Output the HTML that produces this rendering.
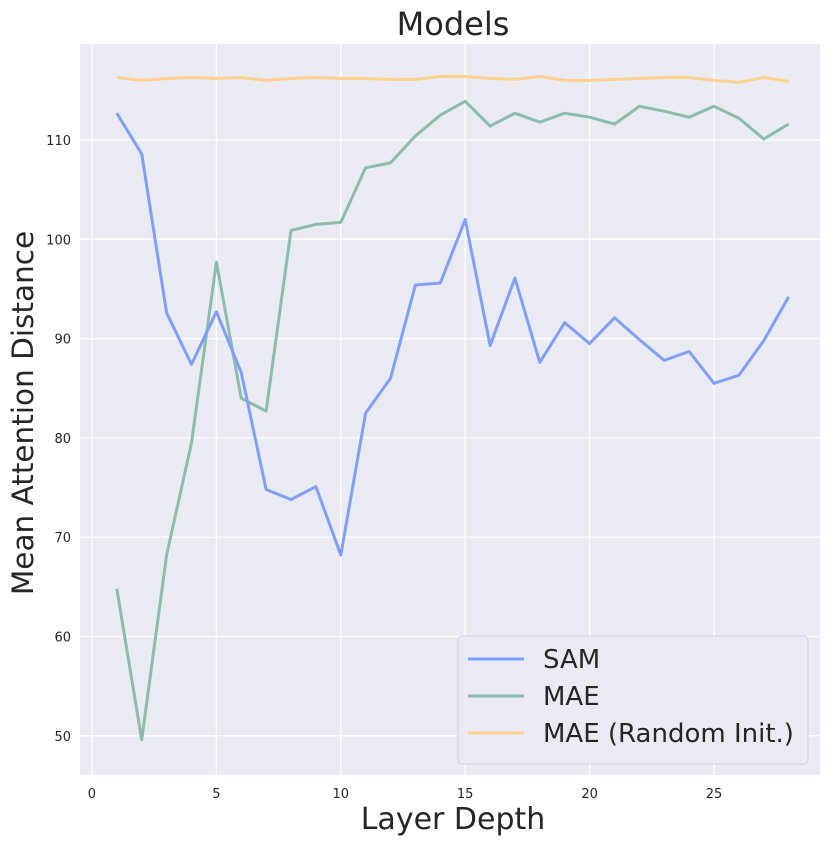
<!DOCTYPE html>
<html><head><meta charset="utf-8"><style>
body{margin:0;background:#fff;}
svg{font-family:"DejaVu Sans","Liberation Sans",sans-serif;}
</style></head><body>
<svg id="chart" width="831" height="845">
<rect x="80" y="44" width="740" height="731" fill="#eaeaf2"/>
<g id="grid"></g><g id="series"></g><g id="ticks"></g>
<text x="453" y="35" font-size="32" text-anchor="middle" fill="#262626">Models</text>
<text x="453" y="829" font-size="30" text-anchor="middle" fill="#262626">Layer Depth</text>
<text transform="translate(33,413) rotate(-90)" font-size="29.5" text-anchor="middle" fill="#262626">Mean Attention Distance</text>
<g id="legend">
<rect x="458" y="636" width="350" height="128" rx="4" fill="#eaeaf2" stroke="#d0d0d8"/>
</g>
</svg>
<script>
const layers=[1,2,3,4,5,6,7,8,9,10,11,12,13,14,15,16,17,18,19,20,21,22,23,24,25,26,27,28];
const samValues=[112.7,108.6,92.6,87.4,92.7,86.6,74.8,73.8,75.1,68.2,82.5,86.0,95.4,95.6,102.0,89.3,96.1,87.6,91.6,89.5,92.1,89.9,87.8,88.7,85.5,86.3,89.8,94.2];
const maeValues=[64.8,49.6,68.2,79.5,97.7,84.0,82.7,100.9,101.5,101.7,107.2,107.7,110.4,112.5,113.9,111.4,112.7,111.8,112.7,112.3,111.6,113.4,112.9,112.3,113.4,112.2,110.1,111.6];
const randValues=[116.3,116.0,116.2,116.3,116.2,116.3,116.0,116.2,116.3,116.2,116.2,116.1,116.1,116.4,116.4,116.2,116.1,116.4,116.0,116.0,116.1,116.2,116.3,116.3,116.0,115.8,116.3,115.9];
const seriesNames=["SAM","MAE","MAE (Random Init.)"];
const xTicks=[0,5,10,15,20,25];
const yTicks=[50,60,70,80,90,100,110];
const NS="http://www.w3.org/2000/svg";
const X0=80,X1=820,Y0=775,Y1=44,xMin=-0.48,xMax=29.26,yMin=46.05,yMax=119.67;
const sx=v=>X0+(v-xMin)/(xMax-xMin)*(X1-X0);
const sy=v=>Y0-(v-yMin)/(yMax-yMin)*(Y0-Y1);
function mk(t,a,p){const e=document.createElementNS(NS,t);for(const k in a)e.setAttribute(k,a[k]);p.appendChild(e);return e;}
const grid=document.getElementById('grid'),ticks=document.getElementById('ticks');
xTicks.forEach(t=>{
 const l=mk('line',{x1:sx(t),x2:sx(t),y1:Y1,y2:Y0,stroke:'#fff','stroke-width':1.3},grid);
 
 
 const tx=mk('text',{x:sx(t),y:798,'font-size':13,'text-anchor':'middle',fill:'#262626'},ticks);tx.textContent=t;
 
 
});
yTicks.forEach(t=>{
 const l=mk('line',{x1:X0,x2:X1,y1:sy(t),y2:sy(t),stroke:'#fff','stroke-width':1.3},grid);
 
 
 const tx=mk('text',{x:71,y:sy(t)+5,'font-size':13,'text-anchor':'end',fill:'#262626'},ticks);tx.textContent=t;
 
 
});
const colors=['#829ff7','#8cbcad','#fdd08e'];
const data=[samValues,maeValues,randValues];
const ser=document.getElementById('series');
[2,1,0].forEach(i=>{
 const d=layers.map((x,j)=>(j?'L':'M')+sx(x).toFixed(1)+' '+sy(data[i][j]).toFixed(1)).join(' ');
 const p=mk('path',{d:d,fill:'none',stroke:colors[i],'stroke-width':3,'stroke-linejoin':'round'},ser);
 
 
});
const lg=document.getElementById('legend');
seriesNames.forEach((n,i)=>{
 const y=659+i*37;
 const l=mk('line',{x1:468,x2:524,y1:y,y2:y,stroke:colors[i],'stroke-width':3},lg);
 
 
 const t=mk('text',{x:543,y:y+9,'font-size':26,fill:'#262626'},lg);t.textContent=n;
 
 
});
</script>
</body></html>
